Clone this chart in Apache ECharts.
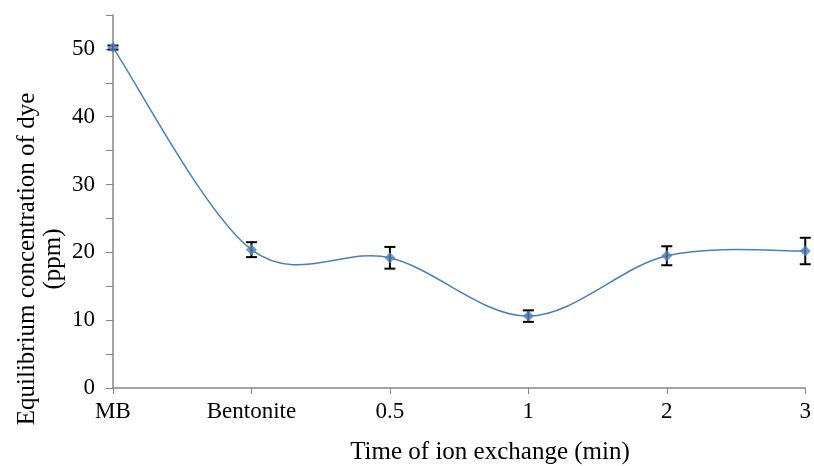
<!DOCTYPE html>
<html>
<head>
<meta charset="utf-8">
<script src="https://cdn.jsdelivr.net/npm/echarts@6/dist/echarts.min.js"></script>
<style>html,body{margin:0;padding:0;background:#fff}#c{width:814px;height:466px}</style>
</head>
<body>
<div id="c"></div>
<script>
var categories = ['MB', 'Bentonite', '0.5', '1', '2', '3'];
var values = [50.2, 20.4, 19.2, 10.6, 19.5, 20.2];
var errors = [0.3, 1.1, 1.6, 0.85, 1.4, 1.95];
var yTicks = [0, 10, 20, 30, 40, 50];
var xTitle = 'Time of ion exchange (min)';
var yTitle1 = 'Equilibrium concentration of dye';
var yTitle2 = '(ppm)';

var font = '"Liberation Serif", "Times New Roman", serif';
var chart = echarts.init(document.getElementById('c'));
var errData = categories.map(function (c, i) { return [i, values[i] - errors[i], values[i] + errors[i]]; });
var segData = categories.slice(0, -1).map(function (c, i) { return [i]; });
var pointData = categories.map(function (c, i) { return [i, values[i]]; });

chart.setOption({
  animation: false,
  grid: { left: 113, right: 7, top: 15, bottom: 78, containLabel: false },
  xAxis: {
    type: 'category',
    data: categories,
    boundaryGap: false,
    axisLine: { lineStyle: { color: '#868686', width: 1.5 } },
    axisTick: { show: true, length: 6, lineStyle: { color: '#868686' } },
    axisLabel: { color: '#000', fontFamily: font, fontSize: 23, margin: 12 },
    splitLine: { show: false }
  },
  yAxis: {
    type: 'value',
    min: 0, max: 55, interval: 5,
    axisLine: { show: true, lineStyle: { color: '#868686', width: 1.5 } },
    axisTick: { show: true, length: 7, lineStyle: { color: '#868686' } },
    axisLabel: {
      color: '#000', fontFamily: font, fontSize: 23, margin: 18,
      formatter: function (v) { return yTicks.indexOf(v) >= 0 ? String(v) : ''; }
    },
    splitLine: { show: false }
  },
  graphic: [
    { type: 'text', x: 490, y: 452, style: { text: xTitle, font: '25px ' + font, fill: '#000', align: 'center', verticalAlign: 'middle' } },
    { type: 'text', x: 27, y: 259, rotation: Math.PI / 2, style: { text: yTitle1, font: '25px ' + font, fill: '#000', align: 'center', verticalAlign: 'middle' } },
    { type: 'text', x: 53, y: 259, rotation: Math.PI / 2, style: { text: yTitle2, font: '25px ' + font, fill: '#000', align: 'center', verticalAlign: 'middle' } }
  ],
  series: [
    {
      type: 'custom',
      data: segData,
      z: 2,
      renderItem: function (params, api) {
        var i = api.value(0);
        var n = values.length;
        var pt = function (k) { k = Math.max(0, Math.min(n - 1, k)); return api.coord([k, values[k]]); };
        var p0 = pt(i - 1), p1 = pt(i), p2 = pt(i + 1), p3 = pt(i + 2);
        return {
          type: 'bezierCurve',
          shape: {
            x1: p1[0], y1: p1[1], x2: p2[0], y2: p2[1],
            cpx1: p1[0] + (p2[0] - p0[0]) / 6, cpy1: p1[1] + (p2[1] - p0[1]) / 6,
            cpx2: p2[0] - (p3[0] - p1[0]) / 6, cpy2: p2[1] - (p3[1] - p1[1]) / 6
          },
          style: { stroke: '#4a7ebb', lineWidth: 1.5, fill: null }
        };
      }
    },
    {
      type: 'custom',
      data: errData,
      z: 3,
      renderItem: function (params, api) {
        var x = api.value(0);
        var lo = api.coord([x, api.value(1)]);
        var hi = api.coord([x, api.value(2)]);
        var hw = 5.5;
        var st = { stroke: '#000', lineWidth: 2 };
        return {
          type: 'group',
          children: [
            { type: 'line', shape: { x1: lo[0], y1: lo[1], x2: hi[0], y2: hi[1] }, style: st },
            { type: 'line', shape: { x1: lo[0] - hw, y1: lo[1], x2: lo[0] + hw, y2: lo[1] }, style: st },
            { type: 'line', shape: { x1: hi[0] - hw, y1: hi[1], x2: hi[0] + hw, y2: hi[1] }, style: st }
          ]
        };
      }
    },
    {
      type: 'scatter',
      data: pointData,
      symbol: 'diamond',
      symbolSize: 11,
      itemStyle: { color: '#4f81bd' },
      z: 5
    }
  ]
});
</script>
</body>
</html>
